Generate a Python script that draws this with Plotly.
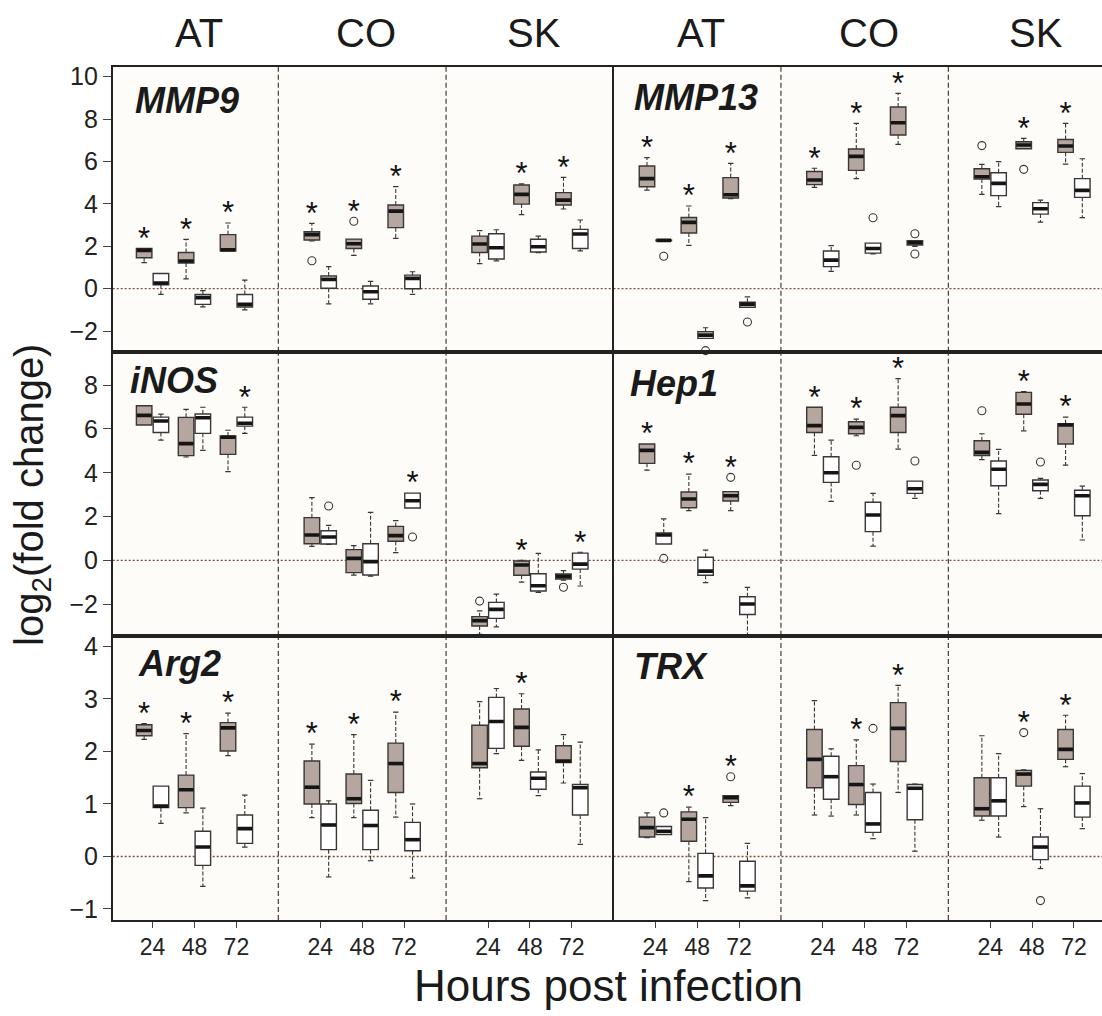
import plotly.graph_objects as go

W, H = 1102, 1016
FONT = "Liberation Sans, Arial, Helvetica, sans-serif"

tissues = ["AT", "CO", "SK"]
hours = ["24", "48", "72"]
genes_left = ["MMP9", "iNOS", "Arg2"]
genes_right = ["MMP13", "Hep1", "TRX"]

# Each entry: (lower whisker, Q1, median, Q3, upper whisker)
# order: AT24, AT48, AT72, CO24, CO48, CO72, SK24, SK48, SK72
MMP9_grey = [(1.23, 1.46, 1.81, 1.90, 1.90), (0.46, 1.21, 1.31, 1.71, 2.33), (1.78, 1.78, 1.84, 2.55, 3.10),
             (2.25, 2.30, 2.55, 2.69, 3.08), (1.57, 1.90, 2.12, 2.34, 2.34), (2.37, 2.88, 3.66, 3.95, 4.81),
             (1.18, 1.71, 2.11, 2.48, 2.74), (3.49, 3.99, 4.45, 4.89, 4.94), (3.76, 3.95, 4.18, 4.53, 5.25)]
MMP9_white = [(-0.27, 0.19, 0.27, 0.72, 0.72), (-0.86, -0.74, -0.42, -0.27, -0.09), (-1.00, -0.86, -0.74, -0.27, 0.41),
              (-0.71, 0.02, 0.44, 0.60, 1.04), (-0.71, -0.50, -0.14, 0.13, 0.35), (-0.27, 0.00, 0.49, 0.64, 0.80),
              (1.31, 1.40, 1.93, 2.59, 2.78), (1.70, 1.73, 1.98, 2.33, 2.48), (1.78, 1.90, 2.58, 2.80, 3.24)]
MMP9_outliers = [(3, 0, 1.32), (4, 0, 3.18)]
MMP9_sig = [(0, 0), (1, 0), (2, 0), (3, 0), (4, 0), (5, 0), (7, 0), (8, 0)]

MMP13_grey = [(4.65, 4.81, 5.19, 5.79, 6.18), (2.04, 2.63, 3.13, 3.36, 3.90), (4.25, 4.28, 4.43, 5.24, 5.91),
              (4.78, 4.91, 5.13, 5.53, 5.68), (5.19, 5.58, 6.24, 6.59, 7.80), (6.81, 7.25, 7.83, 8.57, 9.21),
              (4.45, 5.17, 5.28, 5.66, 5.86), (6.60, 6.60, 6.78, 6.93, 7.09), (5.88, 6.43, 6.73, 7.04, 7.80)]
MMP13_white = [(2.26, 2.26, 2.28, 2.30, 2.30), (-2.34, -2.34, -2.19, -2.03, -1.84), (-0.88, -0.88, -0.74, -0.64, -0.38),
               (0.82, 1.04, 1.35, 1.78, 2.03), (1.64, 1.68, 1.90, 2.15, 2.15), (2.00, 2.06, 2.17, 2.26, 2.26),
               (3.87, 4.39, 4.97, 5.47, 5.99), (3.14, 3.52, 3.77, 4.06, 4.18), (3.35, 4.31, 4.64, 5.19, 6.13)]
MMP13_outliers = [(6, 0, 6.75), (7, 0, 5.63), (0, 1, 1.53), (1, 1, -2.92), (2, 1, -1.57),
                  (4, 1, 3.35), (5, 1, 2.59), (5, 1, 1.64)]
MMP13_sig = [(0, 0), (1, 0), (2, 0), (3, 0), (4, 0), (5, 0), (7, 0), (8, 0)]

iNOS_grey = [(6.18, 6.18, 6.62, 7.06, 7.06), (4.72, 4.78, 5.33, 6.53, 6.89), (4.05, 4.84, 5.62, 5.68, 5.94),
             (0.64, 0.76, 1.16, 1.95, 2.86), (-0.67, -0.56, 0.09, 0.49, 0.67), (0.35, 0.87, 1.13, 1.55, 1.81),
             (-3.38, -3.00, -2.75, -2.57, -2.31), (-0.99, -0.68, -0.21, -0.03, 0.00), (-0.90, -0.85, -0.73, -0.62, -0.47)]
iNOS_white = [(5.49, 5.84, 6.36, 6.54, 6.68), (5.02, 5.80, 6.51, 6.68, 6.99), (5.80, 6.13, 6.26, 6.54, 6.99),
              (0.73, 0.75, 1.07, 1.35, 1.60), (-0.72, -0.67, -0.06, 0.76, 2.19), (2.39, 2.39, 2.72, 3.07, 3.07),
              (-3.04, -2.65, -2.24, -1.92, -1.54), (-1.46, -1.40, -1.16, -0.61, 0.32), (-1.17, -0.40, -0.17, 0.33, 0.37)]
iNOS_outliers = [(3, 1, 2.48), (5, 1, 1.07), (6, 0, -1.86), (8, 0, -1.23)]
iNOS_sig = [(2, 1), (5, 1), (7, 0), (8, 1)]

Hep1_grey = [(4.12, 4.43, 5.02, 5.31, 5.31), (2.27, 2.40, 2.80, 3.12, 3.94), (2.27, 2.71, 2.95, 3.14, 3.14),
             (4.79, 5.84, 6.15, 6.99, 6.99), (5.69, 5.78, 6.07, 6.33, 6.45), (5.08, 5.84, 6.61, 6.99, 8.30),
             (4.60, 4.79, 4.93, 5.46, 5.78), (5.91, 6.67, 7.14, 7.67, 7.70), (4.35, 5.31, 6.18, 6.24, 6.54)]
Hep1_white = [(0.75, 0.75, 1.16, 1.25, 1.89), (-1.02, -0.68, -0.49, 0.14, 0.47), (-3.90, -2.47, -1.99, -1.66, -1.23),
              (2.69, 3.56, 4.00, 4.73, 5.49), (0.65, 1.31, 2.07, 2.65, 3.06), (2.83, 3.06, 3.27, 3.62, 3.62),
              (2.13, 3.41, 4.16, 4.54, 5.07), (2.83, 3.18, 3.47, 3.67, 3.74), (0.93, 2.04, 2.95, 3.20, 3.39)]
Hep1_outliers = [(0, 1, 0.09), (2, 0, 3.79), (4, 0, 4.34), (5, 1, 4.54), (6, 0, 6.83), (7, 1, 4.49)]
Hep1_sig = [(0, 0), (1, 0), (2, 0), (3, 0), (4, 0), (5, 0), (7, 0), (8, 0)]

Arg2_grey = [(2.23, 2.30, 2.40, 2.51, 2.53), (0.83, 0.93, 1.27, 1.55, 2.34), (1.92, 2.01, 2.45, 2.55, 2.73),
             (0.74, 1.00, 1.32, 1.82, 2.14), (0.74, 1.01, 1.10, 1.57, 2.32), (0.75, 1.22, 1.77, 2.16, 2.75),
             (1.10, 1.69, 1.77, 2.50, 2.95), (1.83, 2.10, 2.46, 2.81, 3.10), (1.40, 1.79, 1.82, 2.11, 2.32)]
Arg2_white = [(0.63, 0.93, 0.96, 1.34, 1.34), (-0.57, -0.17, 0.18, 0.48, 0.92), (0.18, 0.25, 0.53, 0.79, 1.17),
              (-0.39, 0.13, 0.60, 1.00, 1.06), (-0.08, 0.13, 0.59, 0.88, 1.45), (-0.41, 0.11, 0.32, 0.65, 1.00),
              (1.96, 2.06, 2.57, 3.03, 3.20), (1.16, 1.28, 1.49, 1.61, 2.03), (0.23, 0.79, 1.31, 1.37, 2.18)]
Arg2_outliers = []
Arg2_sig = [(0, 0), (1, 0), (2, 0), (3, 0), (4, 0), (5, 0), (7, 0)]

TRX_grey = [(0.36, 0.37, 0.55, 0.75, 0.83), (-0.48, 0.29, 0.71, 0.85, 0.94), (0.97, 1.03, 1.12, 1.16, 1.16),
            (0.79, 1.31, 1.85, 2.42, 2.97), (0.79, 0.99, 1.37, 1.73, 2.22), (1.22, 1.81, 2.44, 2.93, 3.26),
            (0.69, 0.77, 0.91, 1.50, 2.30), (0.95, 1.34, 1.57, 1.64, 1.65), (1.71, 1.85, 2.04, 2.42, 2.69)]
TRX_white = [(0.42, 0.42, 0.48, 0.57, 0.57), (-0.84, -0.60, -0.37, 0.06, 0.74), (-0.79, -0.66, -0.56, -0.09, 0.25),
             (0.77, 1.09, 1.52, 1.91, 2.05), (0.34, 0.46, 0.62, 1.22, 1.38), (0.10, 0.70, 1.30, 1.37, 1.38),
             (0.37, 0.77, 1.06, 1.50, 1.96), (-0.23, -0.06, 0.18, 0.37, 0.91), (0.53, 0.75, 1.02, 1.34, 1.58)]
TRX_outliers = [(0, 1, 0.83), (2, 0, 1.52), (4, 1, 2.44), (7, 0, 2.36), (7, 1, -0.84)]
TRX_sig = [(1, 0), (2, 0), (4, 0), (5, 0), (7, 0), (8, 0)]

row_yticks = [[-2, 0, 2, 4, 6, 8, 10], [-2, 0, 2, 4, 6, 8], [-1, 0, 1, 2, 3, 4]]

panels = {
    (0, 0): ("MMP9", MMP9_grey, MMP9_white, MMP9_outliers, MMP9_sig),
    (0, 1): ("MMP13", MMP13_grey, MMP13_white, MMP13_outliers, MMP13_sig),
    (1, 0): ("iNOS", iNOS_grey, iNOS_white, iNOS_outliers, iNOS_sig),
    (1, 1): ("Hep1", Hep1_grey, Hep1_white, Hep1_outliers, Hep1_sig),
    (2, 0): ("Arg2", Arg2_grey, Arg2_white, Arg2_outliers, Arg2_sig),
    (2, 1): ("TRX", TRX_grey, TRX_white, TRX_outliers, TRX_sig),
}

# ---------------- layout geometry (pixels) ----------------
row_px = [(66.7, 351.7), (352.3, 635.7), (636.0, 920.0)]
half_px = [(112.7, 611.7), (613.5, 1102.0)]
yranges = [(-2.97, 10.47), (-3.44, 9.5), (-1.21, 4.2)]
xranges = [(0.05, 11.95), (0.0, 11.67)]
label_px = {(0, 0): (133, 100), (0, 1): (632, 97), (1, 0): (128, 380), (1, 1): (628, 383),
            (2, 0): (136, 663), (2, 1): (632, 666)}

GREY = "#B5A79F"
EDGE = "#3a3635"
BG = "#FDFCF8"
OFF = 0.2
BOXW = 0.37
CAPW = 0.065

positions = [c * 4 + h + 1 for c in range(3) for h in range(3)]
tickvals = positions
ticktext = [hours[h] for c in range(3) for h in range(3)]

fig = go.Figure()
layout = dict(width=W, height=H, margin=dict(l=0, r=0, t=0, b=0),
              paper_bgcolor="white", plot_bgcolor=BG, showlegend=False)
shapes = []
annotations = []

for (r, h), (gene, grey, white, outl, sig) in panels.items():
    idx = r * 2 + h + 1
    xa = "x" if idx == 1 else f"x{idx}"
    ya = "y" if idx == 1 else f"y{idx}"
    xname = "xaxis" if idx == 1 else f"xaxis{idx}"
    yname = "yaxis" if idx == 1 else f"yaxis{idx}"
    y0, y1 = yranges[r]
    ppu = (row_px[r][1] - row_px[r][0]) / (y1 - y0)  # pixels per unit

    layout[xname] = dict(
        domain=[half_px[h][0] / W, half_px[h][1] / W], range=list(xranges[h]),
        anchor=ya, showline=True, linecolor="#222", linewidth=1.6, mirror=True,
        showgrid=False, zeroline=False, automargin=False,
        tickmode="array", tickvals=tickvals, ticktext=ticktext,
        showticklabels=(r == 2), ticks="outside" if r == 2 else "",
        ticklen=6, tickcolor="#444", tickwidth=1,
        tickfont=dict(family=FONT, size=23, color="#222"),
    )
    layout[yname] = dict(
        domain=[1 - row_px[r][1] / H, 1 - row_px[r][0] / H], range=[y0, y1],
        anchor=xa, showline=True, linecolor="#222", linewidth=1.6, mirror=(h == 0),
        showgrid=False, zeroline=False, automargin=False,
        tickmode="array", tickvals=row_yticks[r],
        showticklabels=(h == 0), ticks="outside" if h == 0 else "",
        ticklen=8, tickcolor="#444", tickwidth=1,
        tickfont=dict(family=FONT, size=25, color="#222"),
    )

    # column separators and zero line
    for xv in (4, 8):
        shapes.append(dict(type="line", xref=xa, yref=f"{ya} domain", x0=xv, x1=xv, y0=0, y1=1,
                           line=dict(color="#4b3a33", width=1.2, dash="5px,3px"), layer="below"))
    shapes.append(dict(type="line", xref=f"{xa} domain", yref=ya, x0=0, x1=1, y0=0, y1=0,
                       line=dict(color="#7a4a40", width=1.3, dash="2px,2px"), layer="below"))

    wx, wy, cx, cy, mx, my = [], [], [], [], [], []
    tops = {}
    for g, (stats, fill) in enumerate([(grey, GREY), (white, "#FFFFFF")]):
        off = -OFF if g == 0 else OFF
        xs = [p + off for p in positions]
        lo = [s[0] for s in stats]
        q1 = [s[1] for s in stats]
        md = [s[2] for s in stats]
        q3 = [s[3] for s in stats]
        hi = [s[4] for s in stats]
        fig.add_trace(go.Box(x=xs, q1=q1, median=md, q3=q3, lowerfence=q1, upperfence=q3,
                             width=BOXW, fillcolor=fill, line=dict(color=EDGE, width=1.4),
                             whiskerwidth=0, boxpoints=False, xaxis=xa, yaxis=ya,
                             hoverinfo="skip", showlegend=False))
        for i, x in enumerate(xs):
            tops[(i, g)] = hi[i]
            if hi[i] > q3[i]:
                wx += [x, x, None]; wy += [q3[i], hi[i], None]
                cx += [x - CAPW, x + CAPW, None]; cy += [hi[i], hi[i], None]
            if lo[i] < q1[i]:
                wx += [x, x, None]; wy += [q1[i], lo[i], None]
                cx += [x - CAPW, x + CAPW, None]; cy += [lo[i], lo[i], None]
            mx += [x - BOXW / 2 + 0.01, x + BOXW / 2 - 0.01, None]; my += [md[i], md[i], None]

    fig.add_trace(go.Scatter(x=wx, y=wy, mode="lines", xaxis=xa, yaxis=ya, hoverinfo="skip",
                             line=dict(color=EDGE, width=1.1, dash="4px,2px")))
    fig.add_trace(go.Scatter(x=cx, y=cy, mode="lines", xaxis=xa, yaxis=ya, hoverinfo="skip",
                             line=dict(color=EDGE, width=1.2)))
    fig.add_trace(go.Scatter(x=mx, y=my, mode="lines", xaxis=xa, yaxis=ya, hoverinfo="skip",
                             line=dict(color="#151515", width=3.6)))

    ox = [positions[i] + (-OFF if g == 0 else OFF) for i, g, v in outl]
    oy = [v for i, g, v in outl]
    for i, g, v in outl:
        tops[(i, g)] = max(tops[(i, g)], v)
    if outl:
        fig.add_trace(go.Scatter(x=ox, y=oy, mode="markers", xaxis=xa, yaxis=ya, hoverinfo="skip",
                                 cliponaxis=False,
                                 marker=dict(symbol="circle-open", size=8, color=EDGE, line=dict(width=1.1))))

    sx = [positions[i] + (-OFF if g == 0 else OFF) for i, g in sig]
    sy = [tops[(i, g)] + 7.5 / ppu for i, g in sig]
    fig.add_trace(go.Scatter(x=sx, y=sy, mode="text", text=["*"] * len(sig), xaxis=xa, yaxis=ya,
                             hoverinfo="skip", textposition="middle center", cliponaxis=False,
                             textfont=dict(family=FONT, size=31, color="#111")))

    # gene label
    lx, ly = label_px[(r, h)]
    annotations.append(dict(text=f"<b><i>{gene}</i></b>", x=lx / W, y=1 - ly / H, xref="paper", yref="paper",
                            xanchor="left", yanchor="middle", showarrow=False,
                            font=dict(family=FONT, size=36, color="#1a1a1a")))

    # column headers
    if r == 0:
        for c, t in enumerate(tissues):
            annotations.append(dict(text=t, x=c * 4 + 2.1, y=1 - 33 / H, xref=xa, yref="paper",
                                    xanchor="center", yanchor="middle", showarrow=False,
                                    font=dict(family=FONT, size=40, color="#1a1a1a")))

annotations.append(dict(text="log<sub>2</sub>(fold change)", x=32 / W, y=1 - 495 / H, xref="paper", yref="paper",
                        textangle=-90, xanchor="center", yanchor="middle", showarrow=False,
                        font=dict(family=FONT, size=40, color="#1a1a1a")))
annotations.append(dict(text="Hours post infection", x=608 / W, y=1 - 985 / H, xref="paper", yref="paper",
                        xanchor="center", yanchor="middle", showarrow=False,
                        font=dict(family=FONT, size=44, color="#1a1a1a")))

layout["shapes"] = shapes
layout["annotations"] = annotations
fig.update_layout(**layout)
fig.write_html("out.html")
